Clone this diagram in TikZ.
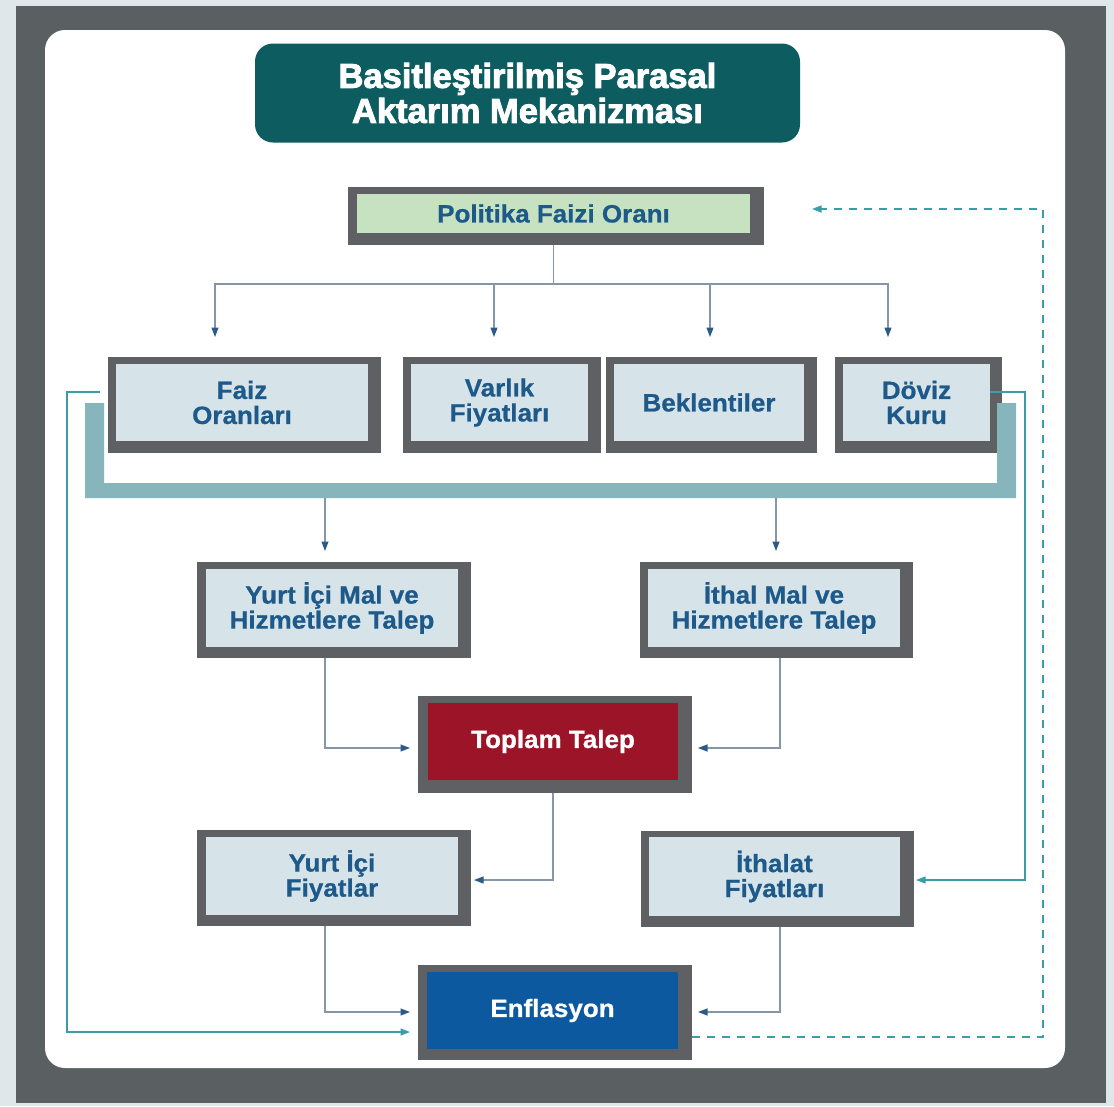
\documentclass[tikz,border=0pt]{standalone}
\usepackage{fontspec}
\setmainfont{Liberation Sans}
\newfontfamily\titlefont[FakeBold=2.6]{Liberation Sans Bold}
\newfontfamily\boxfont[FakeBold=0.7,FakeStretch=1.04]{Liberation Sans Bold}
\usetikzlibrary{arrows.meta,calc}
\definecolor{bgout}{HTML}{DFE7EA}
\definecolor{frameouter}{HTML}{5A5F62}
\definecolor{boxframe}{HTML}{5E6063}
\definecolor{boxfill}{HTML}{D6E3E9}
\definecolor{polfill}{HTML}{C6E2C0}
\definecolor{topfill}{HTML}{9B1428}
\definecolor{enffill}{HTML}{0C59A0}
\definecolor{titlefill}{HTML}{0D5C60}
\definecolor{bracketc}{HTML}{86B6BB}
\definecolor{linegrey}{HTML}{8496A8}
\definecolor{headblue}{HTML}{2D5B87}
\definecolor{tealline}{HTML}{3A9EA6}
\definecolor{txtblue}{HTML}{1D5A8A}
\tikzset{
  outerbox/.style={fill=boxframe, draw=none, inner sep=0pt, outer sep=0pt},
  innerbox/.style={draw=none, inner sep=0pt, outer sep=0pt, align=center,
    font=\boxfont\fontsize{25}{25}\selectfont, text=txtblue},
  conn/.style={draw=linegrey, line width=1.1pt,
    -{Triangle[length=9.5pt,width=7pt,fill=headblue,color=headblue]}},
  plainconn/.style={draw=linegrey, line width=1.1pt},
  tconn/.style={draw=tealline, line width=1.3pt,
    -{Triangle[length=9.5pt,width=7pt,fill=tealline,color=tealline]}},
  dconn/.style={draw=tealline, line width=1.5pt, dash pattern=on 8pt off 7pt,
    -{Triangle[length=9.5pt,width=7pt,fill=tealline,color=tealline]}},
}
\begin{document}
\begin{tikzpicture}[x=1pt,y=-1pt]
\useasboundingbox (0,0) rectangle (1114,1106);
% background frame
\fill[bgout] (0,0) rectangle (1114,1106);
\fill[frameouter] (16,6) rectangle (1106,1103);
\fill[white, rounded corners=20pt] (45,30) rectangle (1065,1068);

% title
\node[fill=titlefill, rounded corners=18pt, minimum width=545pt, minimum height=99pt,
  inner sep=0pt, text=white, align=center,
  font=\titlefont\fontsize{34.5}{35}\selectfont] (title) at (527.5,93)
  {Basitleştirilmiş Parasal\\Aktarım Mekanizması};

% Politika
\node[outerbox, minimum width=416pt, minimum height=58pt] (pol) at (556,216) {};
\node[innerbox, fill=polfill, minimum width=393pt, minimum height=39pt] (pol-in) at (553.5,213.5) {Politika Faizi Oranı};

% row 2
\node[outerbox, minimum width=273pt, minimum height=96pt] (faiz) at (244.5,405) {};
\node[innerbox, fill=boxfill, minimum width=252pt, minimum height=77pt] (faiz-in) at (242,402.5) {Faiz\\Oranları};
\node[outerbox, minimum width=198pt, minimum height=96pt] (varlik) at (502,405) {};
\node[innerbox, fill=boxfill, minimum width=177pt, minimum height=77pt] (varlik-in) at (499.5,402.5) {Varlık\\Fiyatları};
\node[outerbox, minimum width=211pt, minimum height=96pt] (bek) at (711.5,405) {};
\node[innerbox, fill=boxfill, minimum width=190pt, minimum height=77pt] (bek-in) at (709,402.5) {Beklentiler};
\node[outerbox, minimum width=167pt, minimum height=96pt] (doviz) at (918.5,405) {};
\node[innerbox, fill=boxfill, minimum width=147pt, minimum height=77pt] (doviz-in) at (916.5,402.5) {Döviz\\Kuru};

% row 3
\node[outerbox, minimum width=274pt, minimum height=96pt] (ymal) at (334,610) {};
\node[innerbox, fill=boxfill, minimum width=252pt, minimum height=78pt] (ymal-in) at (332,608) {Yurt İçi Mal ve\\Hizmetlere Talep};
\node[outerbox, minimum width=273pt, minimum height=96pt] (imal) at (776.5,610) {};
\node[innerbox, fill=boxfill, minimum width=252pt, minimum height=78pt] (imal-in) at (774,608) {İthal Mal ve\\Hizmetlere Talep};

% Toplam
\node[outerbox, minimum width=274pt, minimum height=97pt] (top) at (555,744.5) {};
\node[innerbox, fill=topfill, text=white, minimum width=250pt, minimum height=77pt] (top-in) at (553,741.5) {Toplam Talep};

% row 5
\node[outerbox, minimum width=274pt, minimum height=96pt] (yfiy) at (334,878) {};
\node[innerbox, fill=boxfill, minimum width=252pt, minimum height=78pt] (yfiy-in) at (332,876) {Yurt İçi\\Fiyatlar};
\node[outerbox, minimum width=273pt, minimum height=96pt] (ifiy) at (777.5,879) {};
\node[innerbox, fill=boxfill, minimum width=251pt, minimum height=79pt] (ifiy-in) at (774.5,876.5) {İthalat\\Fiyatları};

% Enflasyon
\node[outerbox, minimum width=274pt, minimum height=95pt] (enf) at (555,1012.5) {};
\node[innerbox, fill=enffill, text=white, minimum width=251pt, minimum height=77pt] (enf-in) at (552.5,1010.5) {Enflasyon};

% bracket
\fill[bracketc] (85,403) -- (85,498) -- (1016,498) -- (1016,403) -- (997,403) -- (997,483) -- (104,483) -- (104,403) -- cycle;
\coordinate (brL) at (325,498);
\coordinate (brR) at (776,498);

% Politika distribution
\coordinate (split) at (553.5,284);
\draw[plainconn] (pol-in.south |- pol.south) -- (split);
\draw[conn, shorten >=20pt] (split) -| ([xshift=-29.5pt]faiz.north);
\draw[conn, shorten >=20pt] (split) -| ([xshift=-8pt]varlik.north);
\draw[conn, shorten >=20pt] (split) -| ([xshift=-1.5pt]bek.north);
\draw[conn, shorten >=20pt] (split) -| ([xshift=-30.5pt]doviz.north);

% bracket to demand
\draw[conn, shorten >=11pt] (brL) -- (brL |- ymal.north);
\draw[conn, shorten >=11pt] (brR) -- (brR |- imal.north);

% demand to Toplam
\draw[conn, shorten >=8pt] ([xshift=-9pt]ymal.south) |- ([yshift=-3.5pt]top.west);
\draw[conn, shorten >=6pt] ([xshift=3.5pt]imal.south) |- ([yshift=-3.5pt]top.east);

% Toplam to yurt ici fiyatlar
\draw[conn, shorten >=3pt] ([xshift=-2pt]top.south) |- ([yshift=-2pt]yfiy.east);

% prices to Enflasyon
\draw[conn, shorten >=8pt] ([xshift=-9pt]yfiy.south) |- ([yshift=0.5pt]enf.west);
\draw[conn, shorten >=6pt] ([xshift=2.5pt]ifiy.south) |- ([yshift=0.5pt]enf.east);

% teal lines
\coordinate (lt) at (67,392);
\draw[tconn, shorten >=8pt] ([xshift=-8pt,yshift=13pt]faiz.west) -- (lt) |- ([yshift=-19.5pt]enf.west);
\coordinate (rt) at (1025,392);
\draw[tconn, shorten >=2pt] ([xshift=-12pt,yshift=13pt]doviz.east) -- (rt) |- ([yshift=-1pt]ifiy.east);

% dashed feedback
\coordinate (dk) at (1043,1037);
\draw[dconn, shorten >=48pt] ([yshift=-24.5pt]enf.east) -- (dk) |- ([yshift=7pt]pol.east);
\end{tikzpicture}
\end{document}
